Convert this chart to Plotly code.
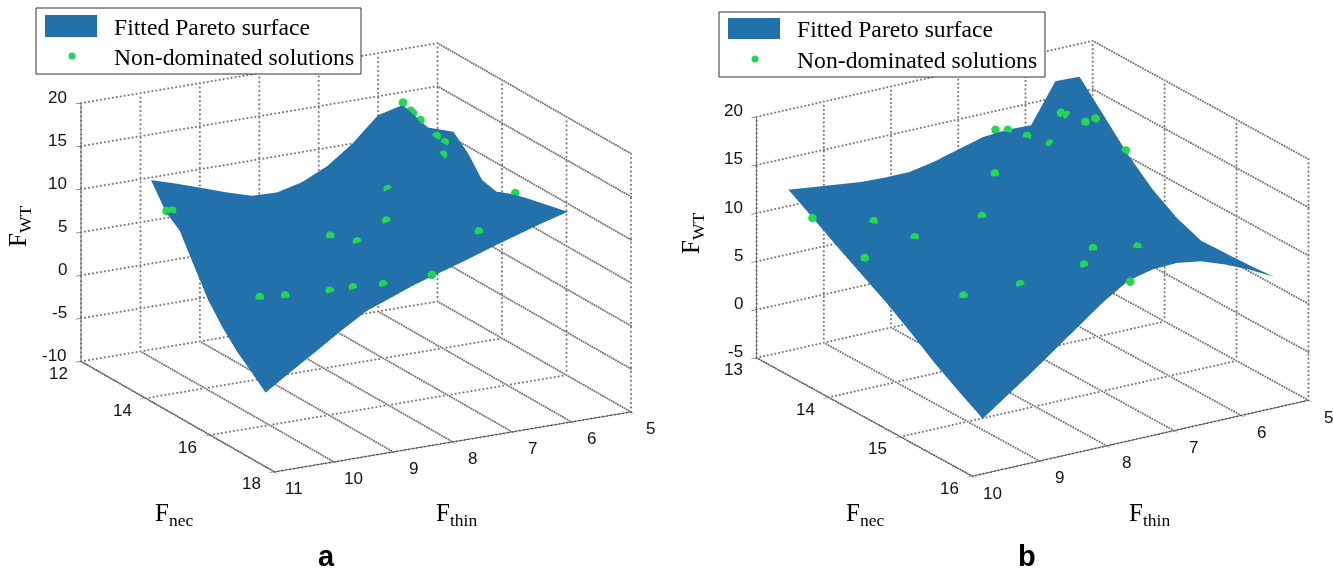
import plotly.graph_objects as go

W, H = 1333, 571
SURFACE_COLOR = "#2271AA"
POINT_COLOR = "#22D84F"

# Panel a
a_nec = [14.17,14.62,15.06,15.50,15.95,16.39,16.83,17.27,17.72]
a_thin = [11.00,10.58,10.15,9.73,9.30,8.88,8.46,8.03,7.61,7.18,6.76,6.34,5.91]
a_wt = [
 [15.7,13.0,11.7,8.6,5.5,3.3,1.5,0.1,-1.4],
 [14.8,12.3,11.2,8.4,5.9,4.1,2.7,1.6,0.5],
 [13.8,11.6,10.6,8.3,6.3,4.9,3.9,3.2,2.4],
 [12.8,10.9,10.1,8.2,6.6,5.7,5.0,4.7,4.3],
 [11.9,10.3,9.5,8.0,7.0,6.4,6.1,6.1,6.1],
 [11.8,10.3,9.5,8.2,7.4,7.1,7.0,7.1,7.2],
 [12.5,11.0,9.9,8.8,8.3,8.0,8.0,8.1,8.3],
 [13.9,12.2,10.9,9.8,9.3,9.1,9.0,9.1,9.2],
 [16.0,14.2,12.5,11.2,10.8,10.5,10.3,10.2,10.1],
 [18.8,16.7,14.5,13.1,12.6,12.1,11.7,11.4,11.1],
 [19.5,17.3,14.9,13.7,13.3,12.9,12.6,12.3,12.0],
 [16.4,14.7,12.6,11.8,12.1,12.3,12.5,12.7,12.9],
 [15.4,13.9,11.7,11.3,12.0,12.5,12.9,13.3,13.7],
]
a_pts_nec = [14.63,14.62,15.13,15.64,15.38,15.73,17.22,16.05,17.70,14.17,14.17,14.07,14.23,14.37,14.47,14.77,16.19,16.34,16.67,16.87,17.24]
a_pts_thin = [10.99,10.89,7.54,7.84,8.64,8.38,7.14,5.89,8.19,6.76,6.63,6.54,6.50,6.30,6.22,6.41,10.27,9.92,9.35,9.07,8.76]
a_pts_wt = [13.1,13.0,12.7,10.5,9.1,8.9,11.8,12.3,9.0,19.8,18.7,18.1,17.6,15.8,15.2,14.6,5.6,5.7,6.3,6.8,7.6]
a_nec_ticks = [12,14,16,18]
a_thin_ticks = [11,10,9,8,7,6,5]
a_wt_ticks = [-10,-5,0,5,10,15,20]

# Panel b
b_nec = [13.21,13.54,13.88,14.22,14.56,14.90,15.23,15.57,15.91]
b_thin = [9.75,9.39,9.03,8.67,8.31,7.95,7.58,7.22,6.86,6.50,6.14,5.78,5.42]
b_wt = [
 [12.9,11.4,9.8,8.3,6.8,5.1,3.3,1.7,0.2],
 [12.6,11.2,9.8,8.5,7.2,5.8,4.4,3.1,2.0],
 [12.3,11.1,9.8,8.7,7.6,6.5,5.5,4.6,3.8],
 [12.0,10.9,9.8,8.8,8.0,7.2,6.6,6.1,5.7],
 [11.9,10.9,10.0,9.1,8.5,8.0,7.7,7.6,7.6],
 [11.9,11.1,10.2,9.6,9.1,8.9,8.9,9.2,9.5],
 [12.4,11.6,10.8,10.1,9.8,9.7,10.0,10.5,11.1],
 [13.1,12.1,11.1,10.4,10.1,10.0,10.4,11.0,11.7],
 [13.8,12.6,11.4,10.5,10.1,9.9,10.5,11.1,11.8],
 [14.0,12.6,11.2,10.2,9.6,9.4,10.0,10.7,11.4],
 [13.9,12.4,10.8,9.5,8.8,8.5,9.1,9.8,10.5],
 [17.9,15.5,13.2,11.2,9.8,8.9,9.0,9.2,9.4],
 [17.8,15.2,12.5,10.3,8.7,7.7,7.8,7.9,8.1],
]
b_pts_nec = [13.57,13.72,14.00,14.03,13.63,13.18,13.23,13.33,13.46,13.40,13.45,13.61,13.59,13.87,15.21,15.06,15.30,15.95,15.03,14.10,14.83]
b_pts_thin = [9.78,9.03,8.72,7.75,7.13,6.64,6.51,6.33,6.13,5.90,5.86,5.76,5.59,5.44,6.70,7.20,7.59,7.60,8.25,9.57,8.88]
b_pts_wt = [11.5,10.6,9.6,10.4,12.2,14.1,14.1,13.6,13.0,15.6,15.5,15.3,15.3,12.9,10.4,10.4,10.3,11.2,8.2,9.2,7.2]
b_nec_ticks = [13,14,15,16]
b_thin_ticks = [10,9,8,7,6,5]
b_wt_ticks = [-5,0,5,10,15,20]

SERIES_NAMES = ["Fitted Pareto surface", "Non-dominated solutions"]
DOTS_LONG, DOTS_TALL = 90, 58


def grid_trace(nec_t, thin_t, wt_t, scene):
    nmin, nmax = min(nec_t), max(nec_t)
    tfar, tnear = min(thin_t), max(thin_t)
    zmin, zmax = min(wt_t), max(wt_t)
    xs, ys, zs = [], [], []
    def seg(p, q, n):
        for k in range(n + 1):
            f = k / n
            xs.append(p[0] + (q[0] - p[0]) * f)
            ys.append(p[1] + (q[1] - p[1]) * f)
            zs.append(p[2] + (q[2] - p[2]) * f)
    for n in nec_t:
        seg((n, tnear, zmin), (n, tfar, zmin), DOTS_LONG)
        seg((n, tfar, zmin), (n, tfar, zmax), DOTS_TALL)
    for t in thin_t:
        seg((nmax, t, zmin), (nmin, t, zmin), DOTS_LONG)
        seg((nmin, t, zmin), (nmin, t, zmax), DOTS_TALL)
    for z in wt_t:
        seg((nmin, tnear, z), (nmin, tfar, z), DOTS_LONG)
        seg((nmin, tfar, z), (nmax, tfar, z), DOTS_LONG)
    return go.Scatter3d(x=xs, y=ys, z=zs, mode="markers", scene=scene, showlegend=False, hoverinfo="skip",
                        marker=dict(size=1.2, color="#777777", line=dict(width=0)))


TICK_FONT = dict(family="Liberation Sans", size=17, color="#111111")


def axis(ticks, rng):
    return dict(range=rng, tickvals=ticks, showticklabels=False, title=dict(text=""),
                showgrid=False, zeroline=False, showline=True, linecolor="#333333", linewidth=1.5,
                showbackground=False, ticks="outside", ticklen=6, tickcolor="#333333", showspikes=False)


def tick_labels(nec_t, thin_t, wt_t):
    nmin, nmax = min(nec_t), max(nec_t)
    tfar, tnear = min(thin_t), max(thin_t)
    zmin = min(wt_t)
    out = []
    def lab(x, y, z, v, dx, dy, anchor="center"):
        out.append(dict(x=x, y=y, z=z, text=str(v), showarrow=False, xshift=dx, yshift=dy, xanchor=anchor,
                        yanchor="middle", font=TICK_FONT))
    for z in wt_t:
        lab(nmin, tnear, z, z, -12, 6, "right")
    for n in nec_t:
        lab(n, tnear, zmin, n, -23, -12)
    for t in thin_t:
        lab(nmax, t, zmin, t, 20, -17)
    return out


fig = go.Figure()
for scene, nec, thin, wt, pn, pt, pz, nt, tt, zt in [
    ("scene", a_nec, a_thin, a_wt, a_pts_nec, a_pts_thin, a_pts_wt, a_nec_ticks, a_thin_ticks, a_wt_ticks),
    ("scene2", b_nec, b_thin, b_wt, b_pts_nec, b_pts_thin, b_pts_wt, b_nec_ticks, b_thin_ticks, b_wt_ticks),
]:
    fig.add_trace(grid_trace(nt, tt, zt, scene))
    fig.add_trace(go.Surface(x=nec, y=thin, z=wt, scene=scene, name=SERIES_NAMES[0], showscale=False,
                             colorscale=[[0, SURFACE_COLOR], [1, SURFACE_COLOR]],
                             lighting=dict(ambient=1, diffuse=0, specular=0, roughness=1, fresnel=0)))
    fig.add_trace(go.Scatter3d(x=pn, y=pt, z=pz, mode="markers", scene=scene, name=SERIES_NAMES[1],
                               marker=dict(size=5, color=POINT_COLOR, line=dict(width=0))))


def px(x): return x / W
def py(y): return 1 - y / H


def note(text, x, y, size, family="Liberation Serif", angle=0, xanchor="left", bold=False):
    fig.add_annotation(text=f"<b>{text}</b>" if bold else text, x=px(x), y=py(y), xref="paper", yref="paper",
                       showarrow=False, xanchor=xanchor, yanchor="middle", textangle=angle,
                       font=dict(family=family, size=size, color="black"))


def legend_box(x0, y0, x1, y1, px0, py0, px1, py1, mx, my, tx, ty1, ty2):
    fig.add_shape(type="rect", xref="paper", yref="paper", x0=px(x0), x1=px(x1), y0=py(y0), y1=py(y1),
                  line=dict(color="#333333", width=1), fillcolor="white")
    fig.add_shape(type="rect", xref="paper", yref="paper", x0=px(px0), x1=px(px1), y0=py(py0), y1=py(py1),
                  line=dict(width=0), fillcolor=SURFACE_COLOR)
    fig.add_shape(type="circle", xref="paper", yref="paper", x0=px(mx - 3.5), x1=px(mx + 3.5), y0=py(my - 3.5),
                  y1=py(my + 3.5), line=dict(width=0), fillcolor=POINT_COLOR)
    note(SERIES_NAMES[0], tx, ty1, 23.7)
    note(SERIES_NAMES[1], tx, ty2, 23.7)


legend_box(36, 8, 361, 74, 45, 15, 97, 37, 72, 56, 112, 27, 57)
legend_box(719, 12, 1045, 77, 728, 18, 780, 39, 755, 59, 795, 29, 60)
for tx, ty, fx, fy, wx, wy, lab, lx in [
    (153, 514, 434, 514, 19, 227, "a", 326),
    (844, 514, 1127, 514, 693, 233, "b", 1027),
]:
    note("F<sub>nec</sub>", tx, ty, 25)
    note("F<sub>thin</sub>", fx, fy, 25)
    note("F<sub>WT</sub>", wx, wy, 25, angle=-90, xanchor="center")
    note(lab, lx, 556, 29, family="Liberation Sans", xanchor="center", bold=True)

R_A, R_B = 1.8, 1.8
fig.update_layout(
    width=W, height=H, margin=dict(l=0, r=0, t=0, b=0), paper_bgcolor="white", showlegend=False,
    scene=dict(
        domain=dict(x=[0, 712 / W], y=[1 - 515 / H, 1]),
        xaxis=axis(a_nec_ticks, [12, 18]), yaxis=axis(a_thin_ticks, [11, 5]), zaxis=axis(a_wt_ticks, [-10, 20]),
        annotations=tick_labels(a_nec_ticks, a_thin_ticks, a_wt_ticks),
        aspectmode="manual", aspectratio=dict(x=1.575, y=1.575, z=1.055),
        camera=dict(projection=dict(type="orthographic"), up=dict(x=0, y=0, z=1), center=dict(x=0, y=0, z=0),
                    eye=dict(x=0.8357 * R_A, y=-0.4535 * R_A, z=0.310 * R_A)),
    ),
    scene2=dict(
        domain=dict(x=[732 / W, 1], y=[1 - 517 / H, 1]),
        xaxis=axis(b_nec_ticks, [13, 16]), yaxis=axis(b_thin_ticks, [10, 5]), zaxis=axis(b_wt_ticks, [-5, 20]),
        annotations=tick_labels(b_nec_ticks, b_thin_ticks, b_wt_ticks),
        aspectmode="manual", aspectratio=dict(x=1.545, y=1.545, z=0.9965),
        camera=dict(projection=dict(type="orthographic"), up=dict(x=0, y=0, z=1), center=dict(x=0, y=0, z=0),
                    eye=dict(x=0.7876 * R_B, y=-0.5056 * R_B, z=0.352 * R_B)),
    ),
)
fig.write_html("out.html", config=dict(displayModeBar=False), post_script="document.body.style.margin='0';")
